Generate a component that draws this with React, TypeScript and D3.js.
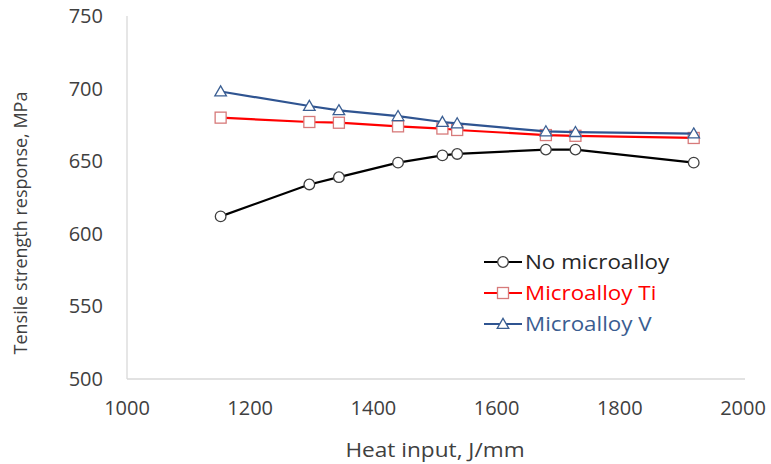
import React from "react";
import * as d3 from "d3";

const heatInput = [1152, 1296, 1344, 1440, 1512, 1536, 1680, 1728, 1920];
const noMicro = [612, 634, 639, 649, 654, 655, 658, 658, 649];
const microTi = [680, 677, 676.5, 674, 672.5, 671.5, 668, 667.5, 666];
const microV = [698, 688, 685, 681, 677, 676, 670.5, 670, 669];
const xTicks = [1000, 1200, 1400, 1600, 1800, 2000];
const yTicks = [500, 550, 600, 650, 700, 750];
const seriesNames = ["No microalloy", "Microalloy Ti", "Microalloy V"];

const W = 771, H = 464;
const FONT = "'Open Sans', 'Liberation Sans', sans-serif";

export default function App() {
  const x = d3.scaleLinear().domain([1000, 2000]).range([127, 743]);
  const y = d3.scaleLinear().domain([500, 750]).range([379, 16]);
  const line = d3.line<[number, number]>().x(d => x(d[0])).y(d => y(d[1]));

  const series = [
    { name: seriesNames[0], values: noMicro, line: "#000000", mark: "#404040", text: "#262626", shape: "circle" },
    { name: seriesNames[1], values: microTi, line: "#ff0000", mark: "#d77a7a", text: "#ff0000", shape: "square" },
    { name: seriesNames[2], values: microV, line: "#2f5491", mark: "#3b5f93", text: "#3a5d91", shape: "triangle" },
  ];

  const marker = (shape: string, cx: number, cy: number, stroke: string, key: string | number) => {
    if (shape === "circle")
      return <circle key={key} cx={cx} cy={cy} r={5.3} fill="#fff" stroke={stroke} strokeWidth={1.3} />;
    if (shape === "square")
      return <rect key={key} x={cx - 5.5} y={cy - 5.5} width={11} height={11} fill="#fff" stroke={stroke} strokeWidth={1.3} />;
    const p = d3.symbol().type(d3.symbolTriangle).size(58)();
    return <path key={key} d={p || ""} transform={`translate(${cx},${cy + 1})`} fill="#fff" stroke={stroke} strokeWidth={1.3} />;
  };

  return (
    <svg width={W} height={H} style={{ position: "absolute", left: 0, top: 0, background: "#fff" }} fontFamily={FONT}>
      <rect width={W} height={H} fill="#fff" />
      <line x1={x(1000)} x2={x(1000)} y1={y(750)} y2={y(500)} stroke="#d9d9d9" strokeWidth={1.3} />
      <line x1={x(1000)} x2={x(2000) + 2} y1={y(500)} y2={y(500)} stroke="#d9d9d9" strokeWidth={1.3} />
      {yTicks.map(t => (
        <text key={t} x={103} y={y(t)} dy="0.35em" textAnchor="end" fontSize={20} fill="#404040">{t}</text>
      ))}
      {xTicks.map(t => (
        <text key={t} x={x(t)} y={408} dy="0.35em" textAnchor="middle" fontSize={20} fill="#404040">{t}</text>
      ))}
      <g transform="translate(435,450) scale(1.16,1)">
        <text dy="0.35em" textAnchor="middle" fontSize={19.5} fill="#404040">Heat input, J/mm</text>
      </g>
      <text transform={`translate(21,${223}) rotate(-90)`} dy="0.35em" textAnchor="middle" fontSize={18} fill="#404040">
        Tensile strength response, MPa
      </text>
      {series.map(s => (
        <g key={s.name}>
          <path d={line(heatInput.map((h, i) => [h, s.values[i]] as [number, number])) || ""} fill="none" stroke={s.line} strokeWidth={2.2} />
          {heatInput.map((h, i) => marker(s.shape, x(h), y(s.values[i]), s.mark, i))}
        </g>
      ))}
      {series.map((s, i) => {
        const ly = 262 + i * 31;
        return (
          <g key={"lg" + s.name}>
            <line x1={484} x2={522} y1={ly} y2={ly} stroke={s.line} strokeWidth={2.2} />
            {marker(s.shape, 503, ly, s.mark, "m")}
            <g transform={`translate(525,${ly}) scale(1.12,1)`}>
              <text dy="0.35em" fontSize={20} fill={s.text}>{s.name}</text>
            </g>
          </g>
        );
      })}
    </svg>
  );
}
